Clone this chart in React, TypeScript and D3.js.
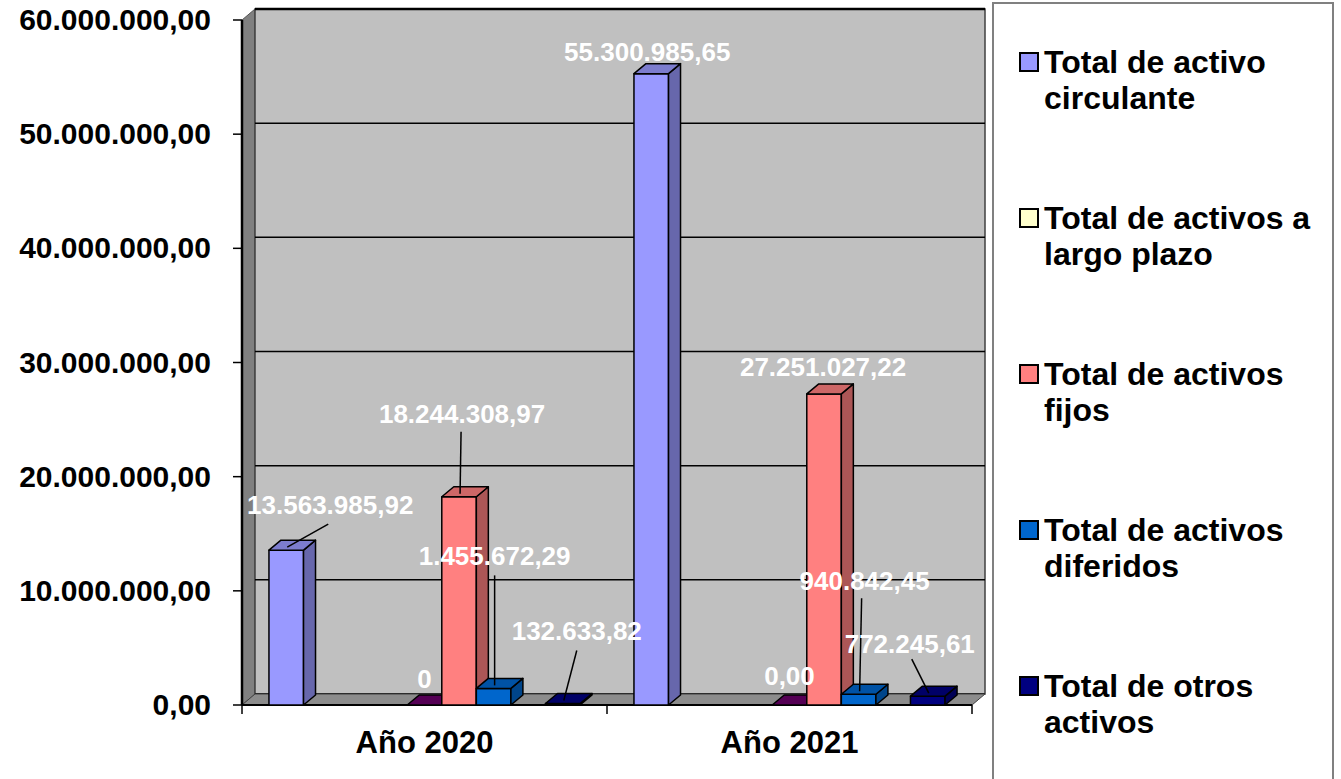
import React from "react";
import * as d3 from "d3";

// ---------- data ----------
const categories = ["Año 2020", "Año 2021"];

const activoCirculante = [13563985.92, 55300985.65];
const activosLargoPlazo: (number | null)[] = [null, null];
const serieCero = [0, 0];
const activosFijos = [18244308.97, 27251027.22];
const activosDiferidos = [1455672.29, 940842.45];
const otrosActivos = [132633.82, 772245.61];

// zero labels as displayed in the chart
const zeroLabels = ["0", "0,00"];

const legendNames = [
  ["Total de activo", "circulante"],
  ["Total de activos a", "largo plazo"],
  ["Total de activos", "fijos"],
  ["Total de activos", "diferidos"],
  ["Total de otros", "activos"],
];

// ---------- styles / layout ----------
// nine series slots (Excel default palette order)
const slots: { values: (number | null)[]; color: string; label: boolean; zeroText?: string[] }[] = [
  { values: activoCirculante, color: "#9999FF", label: true },
  { values: [null, null], color: "#993366", label: false },
  { values: activosLargoPlazo, color: "#FFFFCC", label: false },
  { values: [null, null], color: "#CCFFFF", label: false },
  { values: serieCero, color: "#660066", label: true, zeroText: zeroLabels },
  { values: activosFijos, color: "#FF8080", label: true },
  { values: activosDiferidos, color: "#0066CC", label: true },
  { values: [null, null], color: "#CCCCFF", label: false },
  { values: otrosActivos, color: "#000080", label: true },
];
const legendColors = ["#9999FF", "#FFFFCC", "#FF8080", "#0066CC", "#000080"];

// label placement: [slot][category] -> offset of label center from bar top-center, optional leader start
const labelPlacement: Record<string, { dx: number; dy: number; lead?: [number, number] }> = {
  "0-0": { dx: 44, dy: -36, lead: [-2, 10] },
  "0-1": { dx: -4, dy: -13 },
  "4-0": { dx: 0, dy: -17 },
  "4-1": { dx: 0, dy: -20 },
  "5-0": { dx: 3, dy: -74, lead: [-1, 9] },
  "5-1": { dx: -1, dy: -18 },
  "6-0": { dx: 1, dy: -123, lead: [0, 10] },
  "6-1": { dx: 6, dy: -104, lead: [-3, 8] },
  "8-0": { dx: 14, dy: -63, lead: [0, 10] },
  "8-1": { dx: -18, dy: -43, lead: [2, 6] },
};

const W = 1341;
const H = 779;
const FONT = "'Liberation Sans', Arial, Helvetica, sans-serif";
const WALL = { dx: 13, dy: -11 };
const BAR = { dx: 12, dy: -10 };

const locale = d3.formatLocale({ decimal: ",", thousands: ".", grouping: [3], currency: ["", ""] });
const fmt = locale.format(",.2f");

export default function App() {
  const x0 = d3.scaleBand<string>().domain(categories).range([242, 972]).padding(0);
  const slotScale = d3
    .scaleBand<number>()
    .domain(d3.range(slots.length))
    .range([0, x0.bandwidth()])
    .paddingInner(0)
    .paddingOuter(0.78);
  const y = d3.scaleLinear().domain([0, 60000000]).range([705, 20]);
  const ticks = y.ticks(6);
  const y0 = y(0);
  const xL = x0.range()[0];
  const xR = x0.range()[1];
  const bw = slotScale.bandwidth();

  const poly = (pts: [number, number][]) => d3.line()(pts) + "Z";

  const bars: React.ReactNode[] = [];
  const leaders: React.ReactNode[] = [];
  const labels: React.ReactNode[] = [];

  categories.forEach((cat, ci) => {
    slots.forEach((s, si) => {
      const v = s.values[ci];
      if (v === null || v === undefined) return;
      const x = (x0(cat) as number) + (slotScale(si) as number);
      const top = y(v);
      const base = y0;
      const c = d3.color(s.color)!;
      const side = c.darker(1.1).formatHex();
      const topC = c.darker(0.6).formatHex();
      const key = `${si}-${ci}`;
      bars.push(
        <g key={"b" + key} stroke="#000" strokeWidth={1.5} strokeLinejoin="round">
          {v > 0 && <rect x={x} y={top} width={bw} height={base - top} fill={s.color} />}
          {v > 0 && (
            <path
              d={poly([
                [x + bw, top],
                [x + bw + BAR.dx, top + BAR.dy],
                [x + bw + BAR.dx, base + BAR.dy],
                [x + bw, base],
              ])}
              fill={side}
            />
          )}
          <path
            d={poly([
              [x, top],
              [x + BAR.dx, top + BAR.dy],
              [x + bw + BAR.dx, top + BAR.dy],
              [x + bw, top],
            ])}
            fill={v > 0 ? topC : c.darker(0.5).formatHex()}
          />
        </g>
      );
      if (s.label) {
        const p = labelPlacement[key];
        const cx = x + bw / 2;
        const lx = cx + p.dx;
        const ly = top + p.dy;
        const txt = v === 0 && s.zeroText ? s.zeroText[ci] : fmt(v);
        if (p.lead) {
          leaders.push(
            <line
              key={"l" + key}
              x1={lx + p.lead[0]}
              y1={ly + p.lead[1]}
              x2={cx + 1}
              y2={top - 3}
              stroke="#000"
              strokeWidth={1.5}
            />
          );
        }
        labels.push(
          <text
            key={"t" + key}
            x={lx}
            y={ly}
            textAnchor="middle"
            fill="#fff"
            fontSize={26}
            fontWeight="bold"
            fontFamily={FONT}
          >
            {txt}
          </text>
        );
      }
    });
  });

  const topY = y(60000000);

  return (
    <svg
      width={W}
      height={H}
      style={{ position: "absolute", left: 0, top: 0, background: "#fff" }}
      xmlns="http://www.w3.org/2000/svg"
    >
      <rect x={0} y={0} width={W} height={H} fill="#fff" />
      {/* side wall */}
      <path
        d={poly([
          [xL, topY],
          [xL + WALL.dx, topY + WALL.dy],
          [xL + WALL.dx, y0 + WALL.dy],
          [xL, y0],
        ])}
        fill="#808080"
        stroke="#555"
        strokeWidth={1}
      />
      {/* back wall */}
      <rect
        x={xL + WALL.dx}
        y={topY + WALL.dy}
        width={xR - xL}
        height={y0 - topY}
        fill="#C0C0C0"
        stroke="#404040"
        strokeWidth={1.5}
      />
      {/* gridlines */}
      {ticks.map((t) => (
        <line
          key={"g" + t}
          x1={xL + WALL.dx}
          x2={xR + WALL.dx}
          y1={y(t) + WALL.dy}
          y2={y(t) + WALL.dy}
          stroke="#000"
          strokeWidth={t === 60000000 ? 2.5 : 1.5}
        />
      ))}
      {/* floor */}
      <path
        d={poly([
          [xL, y0],
          [xL + WALL.dx, y0 + WALL.dy],
          [xR + WALL.dx, y0 + WALL.dy],
          [xR, y0],
        ])}
        fill="#8C8C8C"
        stroke="#404040"
        strokeWidth={1}
      />
      {/* axes */}
      <line x1={xL} x2={xL} y1={topY} y2={y0} stroke="#000" strokeWidth={2.5} />
      <line x1={xL} x2={xR} y1={y0} y2={y0} stroke="#000" strokeWidth={2} />
      {ticks.map((t) => (
        <g key={"yt" + t}>
          <line x1={xL - 9} x2={xL} y1={y(t)} y2={y(t)} stroke="#000" strokeWidth={1.5} />
          <text
            x={211}
            y={y(t) + 10}
            textAnchor="end"
            fontSize={30}
            fontWeight="bold"
            fontFamily={FONT}
            fill="#000"
          >
            {fmt(t)}
          </text>
        </g>
      ))}
      {[xL, ...categories.map((c) => (x0(c) as number) + x0.bandwidth())].map((xx, i) => (
        <line key={"xt" + i} x1={xx} x2={xx} y1={y0} y2={y0 + 9} stroke="#000" strokeWidth={1.5} />
      ))}
      {categories.map((c) => (
        <text
          key={"c" + c}
          x={(x0(c) as number) + x0.bandwidth() / 2}
          y={753}
          textAnchor="middle"
          fontSize={31}
          fontWeight="bold"
          fontFamily={FONT}
          fill="#000"
        >
          {c}
        </text>
      ))}
      {bars}
      {leaders}
      {labels}
      {/* legend */}
      <rect x={993} y={3} width={340} height={800} fill="#fff" stroke="#808080" strokeWidth={2} />
      {legendNames.map((lines, i) => {
        const by = 73 + i * 156;
        return (
          <g key={"lg" + i}>
            <rect x={1020} y={by - 20} width={18} height={18} fill={legendColors[i]} stroke="#000" strokeWidth={2} />
            {lines.map((ln, j) => (
              <text
                key={j}
                x={1044}
                y={by + j * 36}
                fontSize={32}
                fontWeight="bold"
                fontFamily={FONT}
                fill="#000"
              >
                {ln}
              </text>
            ))}
          </g>
        );
      })}
    </svg>
  );
}
